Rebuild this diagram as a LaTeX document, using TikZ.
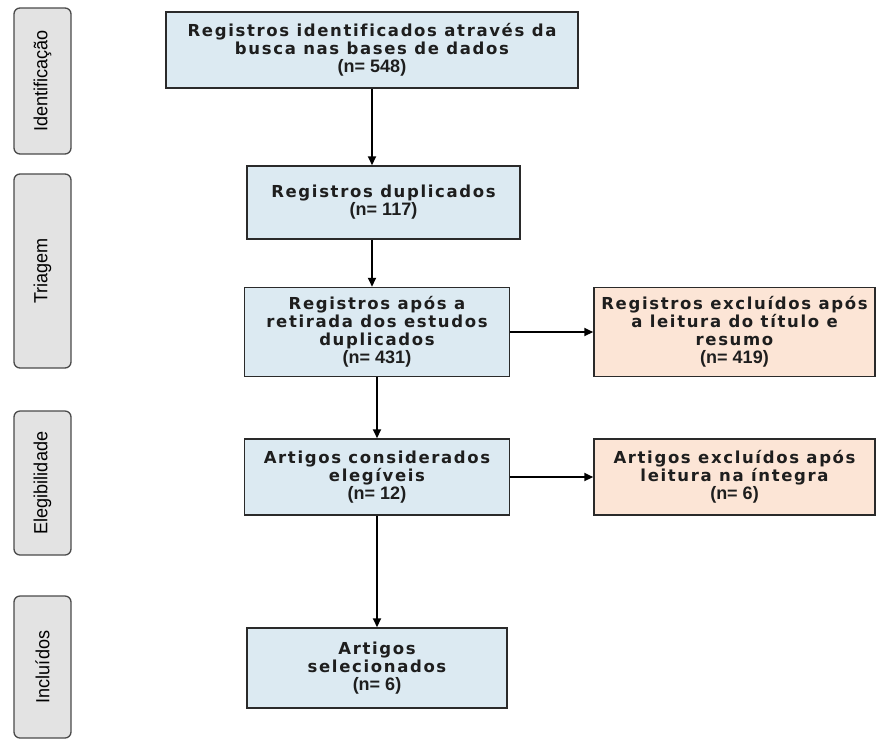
\documentclass[tikz,border=0pt]{standalone}
\usepackage{fontspec}
\usepackage{tikz}
\usetikzlibrary{positioning,arrows.meta}
\newfontfamily\caixafont[LetterSpace=10,Ligatures=NoCommon]{DejaVu Sans}
\newfontfamily\numfont{Liberation Sans}
\newfontfamily\fasefont[FakeStretch=0.95]{Liberation Sans}
\newcommand{\num}[1]{{\numfont\bfseries\fontsize{18}{19}\selectfont #1}}
\definecolor{azul}{HTML}{DCEAF2}
\definecolor{laranja}{HTML}{FCE5D6}
\definecolor{cinza}{HTML}{E3E3E3}
\definecolor{borda}{HTML}{2A2A2A}
\definecolor{texto}{HTML}{1E1E1E}
\tikzset{
	x=1pt, y=-1pt, % one unit is one pixel of the original
	>={Triangle[length=9pt,width=8pt]}, % filled arrow heads
	seta/.style={->, line width=2pt, black}, % the connectors
	caixa/.style={draw=borda, line width=1.5pt, fill=azul, align=center, inner sep=2pt,
		text=texto, font=\caixafont\bfseries\fontsize{16.5}{18}\selectfont}, % flow boxes
	exclusao/.style={caixa, fill=laranja}, % excluded records
	fase/.style={draw=borda!85, line width=1.3pt, fill=cinza, rounded corners=6pt,
		minimum width=57pt, text=black, font=\fasefont\fontsize{19}{21}\selectfont}, % phases on the left
}
\begin{document}
\begin{tikzpicture}
	\useasboundingbox (0,0) rectangle (877,740);
	
	% phases
	\node[fase, minimum height=146pt] (ident) at (42.5,81) {\rotatebox{90}{Identificação}};
	\node[fase, minimum height=194pt] (triag) at (42.5,271) {\rotatebox{90}{Triagem}};
	\node[fase, minimum height=144pt] (elegi) at (42.5,483) {\rotatebox{90}{Elegibilidade}};
	\node[fase, minimum height=142pt] (inclu) at (42.5,667) {\rotatebox{90}{Incluídos}};
	
	% flow
	\node[caixa, minimum width=412pt, minimum height=76pt] (busca) at (372,50)
		{Registros identificados através da\\busca nas bases de dados\\\num{(n= 548)}};
	\node[caixa, minimum width=273pt, minimum height=73pt] (dupl) at (383.5,202.5)
		{Registros duplicados\\\num{(n= 117)}};
	\node[caixa, minimum width=265pt, minimum height=89pt] (apos) at (377,332)
		{Registros após a\\retirada dos estudos\\duplicados\\\num{(n= 431)}};
	\node[exclusao, minimum width=281pt, minimum height=89pt, right=83pt of apos] (exctit)
		{Registros excluídos após\\a leitura do título e\\resumo\\\num{(n= 419)}};
	\node[caixa, minimum width=265pt, minimum height=76pt] (elegiv) at (377,477)
		{Artigos considerados\\elegíveis\\\num{(n= 12)}};
	\node[exclusao, minimum width=281pt, minimum height=76pt, right=83pt of elegiv] (excint)
		{Artigos excluídos após\\leitura na íntegra\\\num{(n= 6)}};
	\node[caixa, minimum width=260pt, minimum height=80pt] (selec) at (377,668)
		{Artigos\\selecionados\\\num{(n= 6)}};
	
	\draw[seta] (busca.south) -- (busca.south |- dupl.north);
	\draw[seta] (busca.south |- dupl.south) -- (busca.south |- apos.north);
	\draw[seta] (apos.east) -- (exctit.west);
	\draw[seta] (apos.south) -- (elegiv.north);
	\draw[seta] (elegiv.east) -- (excint.west);
	\draw[seta] (elegiv.south) -- (selec.north);
	
\end{tikzpicture}
\end{document}
